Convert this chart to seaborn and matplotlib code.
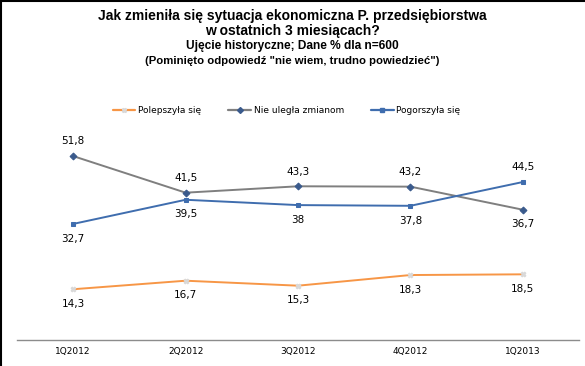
import pandas as pd
import matplotlib.pyplot as plt
import seaborn as sns
from matplotlib.lines import Line2D

kwartaly = ["1Q2012", "2Q2012", "3Q2012", "4Q2012", "1Q2013"]
polepszyla = [14.3, 16.7, 15.3, 18.3, 18.5]
bez_zmian = [51.8, 41.5, 43.3, 43.2, 36.7]
pogorszyla = [32.7, 39.5, 38.0, 37.8, 44.5]

serie = ["Polepszyła się", "Nie uległa zmianom", "Pogorszyła się"]
kolory = ["#F79646", "#7F7F7F", "#3F6DAE"]
znaczniki = ["X", "D", "s"]
kolory_zn = ["#D9D9D9", "#3A5A8C", "#3F6DAE"]

df = pd.concat([
    pd.DataFrame({"kw": kwartaly, "val": v, "seria": s})
    for s, v in zip(serie, [polepszyla, bez_zmian, pogorszyla])
])

sns.set_theme(style="white")
plt.rcParams["font.family"] = ["DejaVu Sans"]
plt.rcParams["text.color"] = "black"
plt.rcParams["xtick.color"] = "black"

fig = plt.figure(figsize=(5.85, 3.66), dpi=100)
ax = fig.add_axes([17 / 585, 26 / 366, 562 / 585, 213 / 366])

sns.lineplot(data=df, x="kw", y="val", hue="seria", style="seria",
             palette=dict(zip(serie, kolory)), markers=dict(zip(serie, znaczniki)),
             dashes=False, linewidth=1.4, markersize=3.5, ax=ax, legend=False,
             sort=False)

# kolory znaczników jak w oryginale
for ln, kz in zip(ax.get_lines(), kolory_zn):
    ln.set_markerfacecolor(kz)
    ln.set_markeredgecolor(kz)

# etykiety wartości
for s, vals in zip(serie, [polepszyla, bez_zmian, pogorszyla]):
    for i, v in enumerate(vals):
        if s == "Nie uległa zmianom" and i < 4:
            off = 7
        elif s == "Pogorszyła się" and i == 4:
            off = 7
        else:
            off = -7
        txt = f"{v:g}".replace(".", ",")
        ax.annotate(txt, (i, v), xytext=(0, off), textcoords="offset points",
                    ha="center", va="bottom" if off > 0 else "top", fontsize=7.5,
                    color="black")

ax.set_xlim(-0.5, 4.5)
ax.set_ylim(0, 60)
ax.set_xlabel("")
ax.set_ylabel("")
ax.set_yticks([])
ax.tick_params(axis="x", length=0, labelsize=6.5, pad=5, labelcolor="black")
for sp in ["top", "left", "right"]:
    ax.spines[sp].set_visible(False)
ax.spines["bottom"].set_color("#8C8C8C")
ax.spines["bottom"].set_linewidth(1.0)

uchwyty = [Line2D([0], [0], color=c, marker=m, markersize=3, linewidth=1.6,
                  markerfacecolor=kz, markeredgecolor=kz)
           for c, m, kz in zip(kolory, znaczniki, kolory_zn)]
fig.legend(uchwyty, serie, loc="center", bbox_to_anchor=(0.49, 1 - 111 / 366),
           ncol=3, frameon=False, fontsize=6.5, handlelength=2.5,
           columnspacing=3, handletextpad=0.3)

tf = ["Liberation Sans", "DejaVu Sans"]
fig.text(0.5, 1 - 16 / 366, "Jak zmieniła się sytuacja ekonomiczna P. przedsiębiorstwa",
         ha="center", va="center", fontsize=10, fontweight="bold", family=tf)
fig.text(0.5, 1 - 31 / 366, "w ostatnich 3 miesiącach?",
         ha="center", va="center", fontsize=10, fontweight="bold", family=tf)
fig.text(0.5, 1 - 46 / 366, "Ujęcie historyczne; Dane % dla n=600",
         ha="center", va="center", fontsize=8.6, fontweight="bold", family=tf)
fig.text(0.5, 1 - 61 / 366, "(Pominięto odpowiedź \"nie wiem, trudno powiedzieć\")",
         ha="center", va="center", fontsize=8.2, fontweight="bold", family=tf)

# ramka: górna i lewa krawędź
fig.add_artist(Line2D([0.5 / 585, 0.5 / 585], [0, 1], color="black", linewidth=1.5))
fig.add_artist(Line2D([0, 1], [1 - 0.5 / 366, 1 - 0.5 / 366], color="black", linewidth=1.5))

fig.savefig("out.png", dpi=100)
